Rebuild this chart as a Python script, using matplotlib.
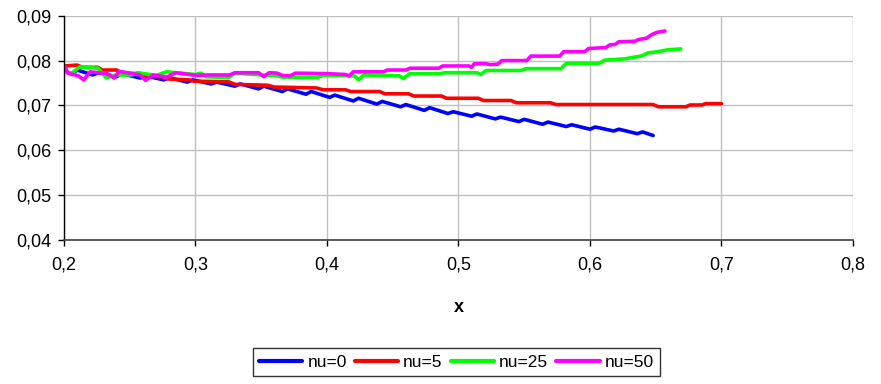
import numpy as np
import matplotlib
matplotlib.use('Agg')
import matplotlib.pyplot as plt
from matplotlib.ticker import FuncFormatter, MultipleLocator

# ---- data ----
labels = ['nu=0', 'nu=5', 'nu=25', 'nu=50']
colors = ['#0000ff', '#ff0000', '#00ff00', '#ff00ff']

x_nu0 = [0.200, 0.206, 0.210, 0.222, 0.226, 0.240, 0.244, 0.258, 0.262, 0.276, 0.280, 0.294, 0.298,
         0.312, 0.316, 0.330, 0.334, 0.348, 0.352, 0.366, 0.370, 0.384, 0.388, 0.402, 0.406, 0.420,
         0.424, 0.438, 0.442, 0.456, 0.460, 0.474, 0.478, 0.492, 0.496, 0.510, 0.514, 0.528, 0.532,
         0.546, 0.550, 0.564, 0.568, 0.582, 0.586, 0.600, 0.604, 0.618, 0.622, 0.636, 0.640, 0.648]
y_nu0 = [0.0778, 0.0770, 0.0779, 0.0768, 0.0773, 0.0764, 0.0771, 0.0761, 0.0766, 0.0757, 0.0762, 0.0752, 0.0757,
         0.0748, 0.0752, 0.0743, 0.0748, 0.0737, 0.0743, 0.0731, 0.0737, 0.0725, 0.0731, 0.0718, 0.0723, 0.0710,
         0.0716, 0.0703, 0.0709, 0.0697, 0.0702, 0.0689, 0.0695, 0.0682, 0.0686, 0.0676, 0.0681, 0.0670, 0.0674,
         0.0664, 0.0669, 0.0658, 0.0663, 0.0653, 0.0657, 0.0647, 0.0652, 0.0643, 0.0647, 0.0637, 0.0641, 0.0633]

x_nu5 = [0.200, 0.210, 0.214, 0.226, 0.229, 0.240, 0.244, 0.256, 0.260, 0.275, 0.279, 0.295, 0.299,
         0.325, 0.330, 0.355, 0.360, 0.392, 0.397, 0.414, 0.418, 0.440, 0.444, 0.462, 0.466, 0.487,
         0.491, 0.515, 0.519, 0.540, 0.544, 0.570, 0.574, 0.648, 0.652, 0.673, 0.676, 0.685, 0.688, 0.700]
y_nu5 = [0.0788, 0.0790, 0.0785, 0.0785, 0.0779, 0.0779, 0.0772, 0.0771, 0.0765, 0.0764, 0.0759, 0.0757, 0.0754,
         0.0753, 0.0747, 0.0745, 0.0741, 0.0739, 0.0735, 0.0735, 0.0731, 0.0731, 0.0726, 0.0726, 0.0721, 0.0721,
         0.0716, 0.0716, 0.0711, 0.0711, 0.0706, 0.0706, 0.0702, 0.0702, 0.0697, 0.0697, 0.0701, 0.0701, 0.0704, 0.0704]

x_nu25 = [0.200, 0.206, 0.212, 0.226, 0.232, 0.240, 0.252, 0.256, 0.270, 0.278, 0.300, 0.304, 0.308,
          0.325, 0.330, 0.350, 0.362, 0.366, 0.393, 0.397, 0.421, 0.424, 0.428, 0.455, 0.458, 0.463,
          0.486, 0.490, 0.514, 0.517, 0.521, 0.548, 0.551, 0.578, 0.582, 0.607, 0.611, 0.627, 0.632,
          0.639, 0.644, 0.652, 0.659, 0.664, 0.669]
y_nu25 = [0.0776, 0.0772, 0.0786, 0.0783, 0.0762, 0.0768, 0.0768, 0.0773, 0.0767, 0.0775, 0.0769, 0.0772, 0.0764,
          0.0762, 0.0772, 0.0768, 0.0766, 0.0763, 0.0763, 0.0767, 0.0766, 0.0757, 0.0768, 0.0766, 0.0760, 0.0771,
          0.0771, 0.0773, 0.0773, 0.0769, 0.0778, 0.0778, 0.0782, 0.0782, 0.0794, 0.0794, 0.0801, 0.0804, 0.0807,
          0.0810, 0.0817, 0.0820, 0.0824, 0.0825, 0.0826]

x_nu50 = [0.200, 0.203, 0.211, 0.215, 0.220, 0.233, 0.238, 0.242, 0.250, 0.258, 0.262, 0.268, 0.278,
          0.285, 0.300, 0.310, 0.326, 0.330, 0.348, 0.352, 0.356, 0.362, 0.366, 0.372, 0.376, 0.400,
          0.414, 0.417, 0.420, 0.443, 0.446, 0.460, 0.463, 0.485, 0.488, 0.508, 0.510, 0.512, 0.521,
          0.524, 0.530, 0.533, 0.552, 0.555, 0.577, 0.580, 0.596, 0.599, 0.612, 0.615, 0.619, 0.622,
          0.634, 0.637, 0.643, 0.647, 0.651, 0.657]
y_nu50 = [0.0790, 0.0772, 0.0766, 0.0757, 0.0775, 0.0771, 0.0761, 0.0776, 0.0772, 0.0768, 0.0756, 0.0768, 0.0763,
          0.0773, 0.0767, 0.0768, 0.0768, 0.0773, 0.0773, 0.0764, 0.0773, 0.0772, 0.0767, 0.0766, 0.0772, 0.0771,
          0.0769, 0.0766, 0.0775, 0.0775, 0.0779, 0.0779, 0.0783, 0.0783, 0.0788, 0.0788, 0.0785, 0.0793, 0.0793,
          0.0791, 0.0792, 0.0800, 0.0800, 0.0810, 0.0810, 0.0820, 0.0820, 0.0827, 0.0829, 0.0835, 0.0836, 0.0842,
          0.0843, 0.0847, 0.0850, 0.0858, 0.0863, 0.0866]

xs = [x_nu0, x_nu5, x_nu25, x_nu50]
ys = [y_nu0, y_nu5, y_nu25, y_nu50]

plt.rcParams['font.family'] = ['Liberation Sans', 'DejaVu Sans']

fig = plt.figure(figsize=(8.81, 3.84), dpi=100)
ax = fig.add_axes([0.0726, 0.375, 0.8956, 0.584])

for x, y, c, lab in zip(xs, ys, colors, labels):
    ax.plot(x, y, color=c, lw=2.6, label=lab, solid_capstyle='round', solid_joinstyle='round')

ax.set_xlim(0.2, 0.8)
ax.set_ylim(0.04, 0.09)
ax.xaxis.set_major_locator(MultipleLocator(0.1))
ax.yaxis.set_major_locator(MultipleLocator(0.01))
ax.xaxis.set_major_formatter(FuncFormatter(lambda v, p: ('%.1f' % v).replace('.', ',')))
ax.yaxis.set_major_formatter(FuncFormatter(lambda v, p: ('%.2f' % v).replace('.', ',')))

ax.grid(True, color='#c0c0c0', lw=1.0)
ax.set_axisbelow(True)
for s in ['top', 'right']:
    ax.spines[s].set_visible(False)
ax.spines['left'].set_color('black')
ax.spines['bottom'].set_color('#404040')
ax.spines['left'].set_linewidth(1.0)
ax.spines['bottom'].set_linewidth(1.2)

ax.tick_params(axis='both', direction='out', length=4, width=1, labelsize=13, colors='black')
ax.tick_params(axis='x', pad=8)
ax.tick_params(axis='y', pad=5)

ax.set_xlabel('x', fontsize=13, fontweight='bold', labelpad=18)

leg = fig.legend(loc='center', bbox_to_anchor=(0.518, 0.057), ncol=4, fontsize=12.5,
                 frameon=True, fancybox=False, edgecolor='black', handlelength=2.5,
                 handletextpad=0.3, columnspacing=0.45, borderpad=0.35, borderaxespad=0)
leg.get_frame().set_linewidth(1.0)
for h in leg.get_lines():
    h.set_linewidth(3)

fig.savefig('out.png', dpi=100)
